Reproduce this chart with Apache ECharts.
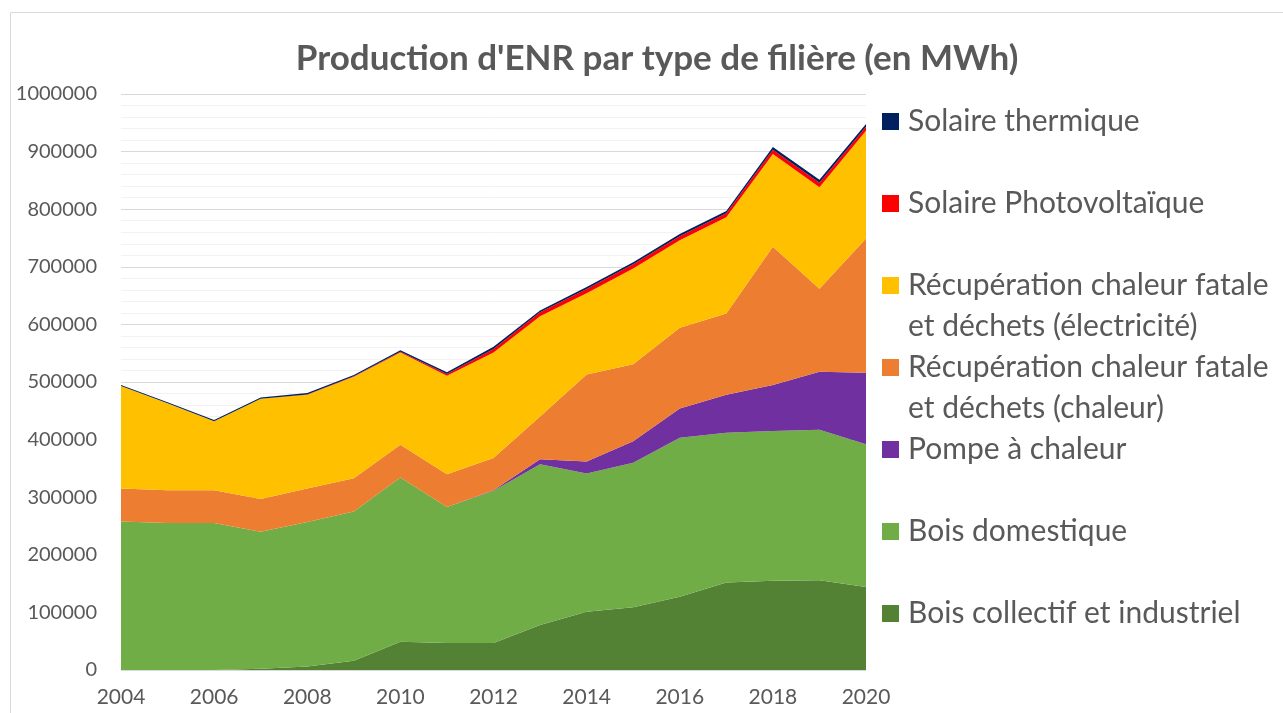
<!DOCTYPE html>
<html>
<head>
<meta charset="utf-8">
<script src="https://cdn.jsdelivr.net/npm/echarts@6/dist/echarts.min.js"></script>
<style>
  html, body { margin: 0; padding: 0; background: #fff; }
  #chart { width: 1283px; height: 713px; }
</style>
</head>
<body>
<div id="chart"></div>
<script>
// années
const years = ['2004', '2005', '2006', '2007', '2008', '2009', '2010', '2011', '2012', '2013', '2014', '2015', '2016', '2017', '2018', '2019', '2020'];

// production par filière (MWh)
const boisCollectif = [0, 0, 0, 2000, 6000, 16000, 49000, 47000, 47000, 78000, 101000, 109000, 127000, 152000, 155000, 156000, 144000];
const boisDomestique = [258000, 255000, 255000, 238000, 251000, 259000, 285000, 236000, 264000, 279000, 240000, 251000, 276000, 260000, 260000, 261000, 248000];
const pompeChaleur = [0, 0, 0, 0, 0, 0, 0, 0, 1000, 9000, 21000, 37000, 51000, 66000, 80000, 101000, 124000];
const recupChaleur = [57000, 57000, 57000, 57000, 58000, 58000, 57000, 57000, 56000, 74000, 151000, 134000, 140000, 141000, 240000, 144000, 233000];
const recupElec = [178000, 151000, 120000, 174000, 163000, 176000, 160000, 171000, 183000, 174000, 141000, 166000, 152000, 167000, 161000, 176000, 187000];
const solairePV = [0, 0, 0, 0, 500, 1000, 1500, 3000, 6500, 7000, 7500, 7500, 7000, 7000, 7000, 8000, 7000];
const solaireThermique = [2000, 2000, 2000, 2000, 2500, 2000, 2500, 3000, 3500, 3000, 3500, 3500, 4000, 4000, 5000, 5000, 5000];

// du bas vers le haut de la pile
const seriesNames = [
  'Bois collectif et industriel',
  'Bois domestique',
  'Pompe à chaleur',
  'Récupération chaleur fatale\net déchets (chaleur)',
  'Récupération chaleur fatale\net déchets (électricité)',
  'Solaire Photovoltaïque',
  'Solaire thermique'
];
const seriesValues = [boisCollectif, boisDomestique, pompeChaleur, recupChaleur, recupElec, solairePV, solaireThermique];
const seriesColors = ['#548235', '#70AD47', '#7030A0', '#ED7D31', '#FFC000', '#FF0000', '#002060'];

const textColor = '#595959';
const fontFamily = 'Lato, "Open Sans", sans-serif';

const chart = echarts.init(document.getElementById('chart'));

const option = {
  backgroundColor: '#fff',
  animation: false,
  title: {
    text: "Production d'ENR par type de filière (en MWh)",
    left: 652,
    textAlign: 'center',
    top: 36,
    textStyle: {
      color: textColor,
      fontSize: 35,
      fontWeight: 'bold',
      fontFamily: fontFamily
    }
  },
  legend: {
    data: seriesNames.slice().reverse(),
    orient: 'vertical',
    left: 882,
    top: 60,
    icon: 'rect',
    itemWidth: 17,
    itemHeight: 17,
    itemGap: -41,
    padding: 0,
    selectedMode: false,
    // ligne vide au-dessus pour aligner le carré sur la première ligne
    formatter: (name) => name.indexOf('\n') >= 0 ? ' \n' + name : ' \n' + name + '\n ',
    textStyle: {
      color: textColor,
      fontSize: 30,
      fontFamily: fontFamily,
      lineHeight: 41,
      padding: [0, 0, 0, 4]
    }
  },
  grid: {
    left: 121,
    right: 417,
    top: 94,
    bottom: 43
  },
  xAxis: {
    type: 'category',
    data: years,
    boundaryGap: false,
    axisLine: { show: true, lineStyle: { color: '#D9D9D9', width: 1 } },
    axisTick: { show: false },
    splitLine: { show: false },
    axisLabel: {
      interval: 1,
      color: textColor,
      fontSize: 21,
      fontFamily: fontFamily,
      margin: 17
    }
  },
  yAxis: {
    type: 'value',
    min: 0,
    max: 1000000,
    interval: 100000,
    axisLine: { show: false },
    axisTick: { show: false },
    axisLabel: {
      color: textColor,
      fontSize: 20,
      fontFamily: fontFamily,
      margin: 24,
      formatter: (v) => String(v)
    },
    splitLine: { lineStyle: { color: '#D9D9D9', width: 1 } },
    minorTick: { show: false, splitNumber: 5 },
    minorSplitLine: { show: true, lineStyle: { color: '#F2F2F2', width: 1 } }
  },
  graphic: [{
    type: 'rect',
    silent: true,
    z: -1,
    shape: { x: 10.5, y: 12.5, width: 1300, height: 720 },
    style: { fill: 'none', stroke: '#D9D9D9', lineWidth: 1 }
  }],
  series: seriesNames.map((name, i) => ({
    name: name,
    type: 'line',
    stack: 'total',
    showSymbol: false,
    symbol: 'none',
    color: seriesColors[i],
    lineStyle: { width: 0 },
    areaStyle: { color: seriesColors[i], opacity: 1 },
    data: seriesValues[i]
  }))
};

chart.setOption(option);
</script>
</body>
</html>
